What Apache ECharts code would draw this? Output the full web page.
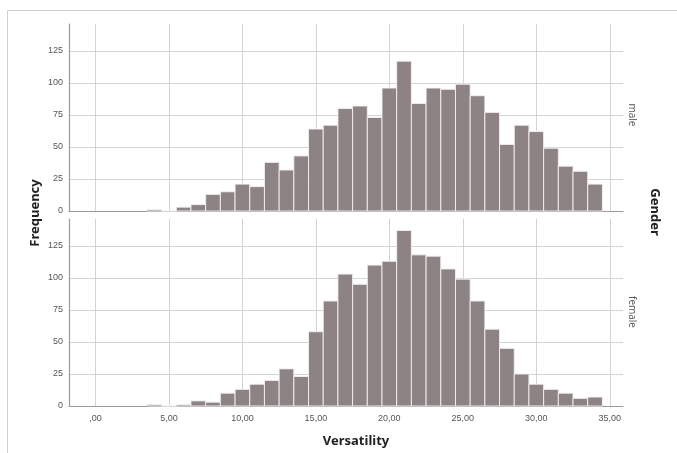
<!DOCTYPE html>
<html>
<head>
<meta charset="utf-8">
<script src="https://cdn.jsdelivr.net/npm/echarts@6/dist/echarts.min.js"></script>
<style>
html,body{margin:0;padding:0;background:#fff;}
#c{width:677px;height:453px;}
</style>
</head>
<body>
<div id="c"></div>
<script>
// Histogram bins (bin centres, width 1)
var binCenters = [4,5,6,7,8,9,10,11,12,13,14,15,16,17,18,19,20,21,22,23,24,25,26,27,28,29,30,31,32,33,34];
var maleCounts = [1,0,3,5,13,15,21,19,38,32,43,64,67,80,82,73,96,117,84,96,95,99,90,77,52,67,62,49,35,31,21];
var femaleCounts = [1,0,1,4,3,10,13,17,20,29,23,58,82,103,95,110,113,137,118,117,107,99,82,60,45,25,17,13,10,6,7];
var xTickValues = [0,5,10,15,20,25,30,35];
var xTickLabels = [',00','5,00','10,00','15,00','20,00','25,00','30,00','35,00'];
var yTickValues = [0,25,50,75,100,125];
var panelNames = ['male','female'];

var chart = echarts.init(document.getElementById('c'), null, {renderer:'canvas'});

function mkData(counts){
  return binCenters.map(function(b,i){ return [b, counts[i]]; });
}
function renderBar(params, api){
  var x = api.value(0), y = api.value(1);
  var p0 = api.coord([x-0.5, y]);
  var p1 = api.coord([x+0.5, 0]);
  return {
    type:'rect',
    shape:{x:p0[0], y:p0[1], width:p1[0]-p0[0], height:p1[1]-p0[1]},
    style:{fill:'#8d8384', stroke:'rgba(245,242,242,0.9)', lineWidth:1}
  };
}
var labelFont = 'Liberation Sans';
function xAxisCfg(idx, showLabels){
  return {
    type:'value', gridIndex:idx, min:-1.8, max:35.9,
    axisLine:{show:true, onZero:false, lineStyle:{color:'#9a9a9a', width:1.2}},
    axisTick:{show:false, customValues:xTickValues},
    axisLabel:{show:showLabels, customValues:xTickValues, color:'#555', fontSize:9, fontFamily:labelFont, margin:8,
      formatter:function(v){ var i = xTickValues.indexOf(v); return i>=0 ? xTickLabels[i] : ''; }},
    splitLine:{show:true, lineStyle:{color:'#d4d4d4', width:1}}
  };
}
function yAxisCfg(idx){
  return {
    type:'value', gridIndex:idx, min:0, max:146,
    axisLine:{show:true, onZero:false, lineStyle:{color:'#9a9a9a', width:1.2}},
    axisTick:{show:false, customValues:yTickValues},
    axisLabel:{customValues:yTickValues, color:'#555', fontSize:9, fontFamily:labelFont, margin:6},
    splitLine:{show:true, lineStyle:{color:'#d4d4d4', width:1}}
  };
}

chart.setOption({
  animation:false,
  grid:[
    {left:69, right:54, top:24, height:187},
    {left:69, right:54, top:219, height:187}
  ],
  xAxis:[xAxisCfg(0,false), xAxisCfg(1,true)],
  yAxis:[yAxisCfg(0), yAxisCfg(1)],
  series:[
    {type:'custom', name:panelNames[0], xAxisIndex:0, yAxisIndex:0, data:mkData(maleCounts), renderItem:renderBar},
    {type:'custom', name:panelNames[1], xAxisIndex:1, yAxisIndex:1, data:mkData(femaleCounts), renderItem:renderBar}
  ],
  graphic:[
    {type:'line', shape:{x1:7.5,y1:10.5,x2:677,y2:10.5}, style:{stroke:'#cfcfcf', lineWidth:1}},
    {type:'line', shape:{x1:7.5,y1:10.5,x2:7.5,y2:453}, style:{stroke:'#cfcfcf', lineWidth:1}},
    {type:'text', x:35, y:213, rotation:Math.PI/2, style:{text:'Frequency', font:'bold 13px "Noto Sans"', fill:'#222', align:'center', verticalAlign:'middle'}},
    {type:'text', x:655, y:212, rotation:-Math.PI/2, style:{text:'Gender', font:'bold 13px "Noto Sans"', fill:'#222', align:'center', verticalAlign:'middle'}},
    {type:'text', x:632, y:115, rotation:-Math.PI/2, style:{text:panelNames[0], font:'10px "Open Sans"', fill:'#555', align:'center', verticalAlign:'middle'}},
    {type:'text', x:632, y:312, rotation:-Math.PI/2, style:{text:panelNames[1], font:'10px "Open Sans"', fill:'#555', align:'center', verticalAlign:'middle'}},
    {type:'text', x:356, y:441, style:{text:'Versatility', font:'bold 13px "Noto Sans"', fill:'#222', align:'center', verticalAlign:'middle'}}
  ]
});
</script>
</body>
</html>
